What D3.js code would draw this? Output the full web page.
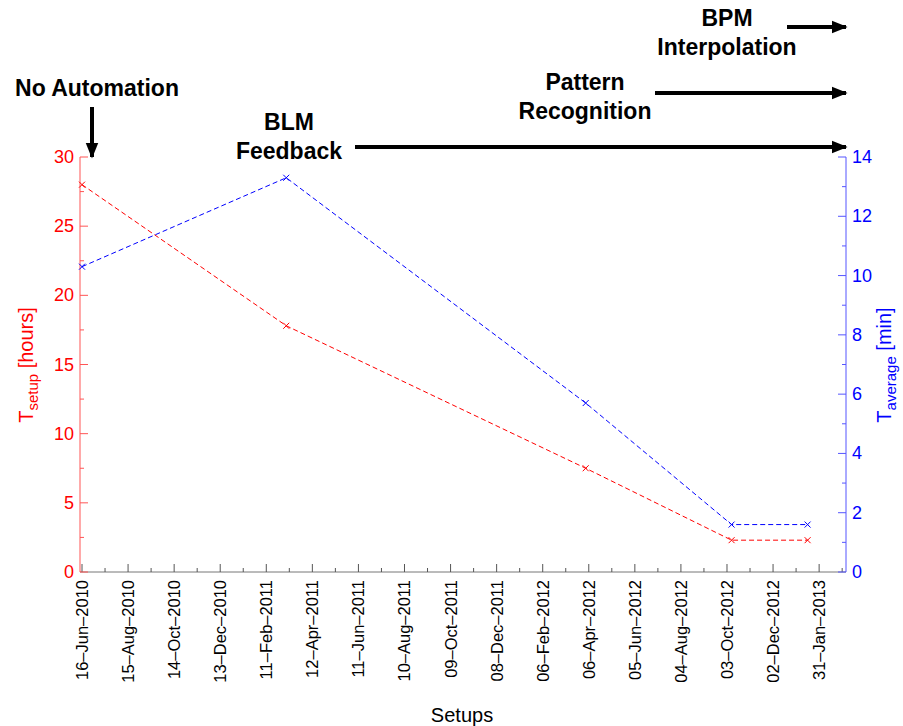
<!DOCTYPE html>
<html><head><meta charset="utf-8">
<script src="https://cdn.jsdelivr.net/npm/d3@7"></script>
<style>body{margin:0;background:#fff}text{font-family:"Liberation Sans",Arial,sans-serif}</style>
</head><body>
<script>
var setupDates = ["2010-06-16","2011-03-09","2012-04-02","2012-10-09","2013-01-16"];
var tSetup = [28, 17.8, 7.5, 2.3, 2.3];
var tAverage = [10.3, 13.3, 5.7, 1.6, 1.6];
var tickStart = "2010-06-16";
var tickCount = 17;   // every 60 days
var notes = [
  {lines:["No Automation"], x:97, y:88},
  {lines:["BLM","Feedback"], x:289, y:122},
  {lines:["Pattern","Recognition"], x:585, y:82},
  {lines:["BPM","Interpolation"], x:727, y:18}
];

var W = 903, H = 726, pLeft = 80, pRight = 846, pTop = 157, pBottom = 572;
var parse = d3.utcParse("%Y-%m-%d"), fmt = d3.utcFormat("%d\u2013%b\u2013%Y");
var t0 = parse(tickStart);
var ticks = d3.range(tickCount).map(function(i){ return d3.utcDay.offset(t0, 60*i); });
var minor = d3.range(tickCount*2).map(function(i){ return d3.utcDay.offset(t0, 30*i); });
var x = d3.scaleUtc().domain([t0, d3.utcDay.offset(t0, 995)]).range([pLeft+2, pRight]);
var yL = d3.scaleLinear().domain([0,30]).range([pBottom, pTop]);
var yR = d3.scaleLinear().domain([0,14]).range([pBottom, pTop]);

var svg = d3.select("body").append("svg").attr("width", W).attr("height", H);
svg.append("defs").append("marker").attr("id","ah").attr("viewBox","0 0 10 10")
  .attr("refX",9).attr("refY",5).attr("markerWidth",4).attr("markerHeight",4)
  .attr("markerUnits","strokeWidth").attr("orient","auto")
  .append("path").attr("d","M0,1L10,5L0,9Z").attr("fill","black");

// x axis
var gx = svg.append("g").attr("transform","translate(0,"+pBottom+")");
gx.append("line").attr("x1",pLeft).attr("x2",pRight).attr("stroke","#777");
gx.selectAll(".mt").data(minor).enter().append("line")
  .attr("x1",function(d){return x(d);}).attr("x2",function(d){return x(d);})
  .attr("y1",0).attr("y2",function(d,i){return i%2?-4:-8;}).attr("stroke","#555");
gx.selectAll(".tl").data(ticks).enter().append("text")
  .attr("transform",function(d){return "translate("+(x(d)+6)+",8) rotate(-90)";})
  .attr("text-anchor","end").attr("font-size",16.5).text(function(d){return fmt(d);});
svg.append("text").attr("x",462).attr("y",722).attr("text-anchor","middle").attr("font-size",20).text("Setups");

// y axes
function yAxis(scale, xpos, step, color, tcolor, dir, anchor){
  var g = svg.append("g");
  g.append("line").attr("x1",xpos).attr("x2",xpos).attr("y1",pTop).attr("y2",pBottom).attr("stroke",color);
  var max = scale.domain()[1];
  d3.range(0, max+0.001, step/2).forEach(function(v,i){
    g.append("line").attr("x1",xpos).attr("x2",xpos+dir*(i%2?4:8))
      .attr("y1",scale(v)).attr("y2",scale(v)).attr("stroke",color);
    if(i%2==0) g.append("text").attr("x",xpos-dir*6).attr("y",scale(v)+6)
      .attr("text-anchor",anchor).attr("fill",tcolor).attr("font-size",18).text(v);
  });
}
yAxis(yL, pLeft, 5, "#f55", "red", 1, "end");
yAxis(yR, pRight, 2, "#55f", "blue", -1, "start");

var lt = svg.append("text").attr("transform","translate(33,365) rotate(-90)")
  .attr("text-anchor","middle").attr("fill","red").attr("font-size",20);
lt.append("tspan").text("T");
lt.append("tspan").attr("font-size",15).attr("dy",5).text("setup");
lt.append("tspan").attr("dy",-5).text(" [hours]");
var rt = svg.append("text").attr("transform","translate(891,365) rotate(-90)")
  .attr("text-anchor","middle").attr("fill","blue").attr("font-size",20);
rt.append("tspan").text("T");
rt.append("tspan").attr("font-size",15).attr("dy",5).text("average");
rt.append("tspan").attr("dy",-5).text(" [min]");

// series
function series(vals, scale, color){
  var pts = setupDates.map(function(d,i){return [x(parse(d)), scale(vals[i])];});
  svg.append("path").attr("d", d3.line()(pts)).attr("fill","none")
    .attr("stroke",color).attr("stroke-dasharray","5,3");
  pts.forEach(function(p){
    svg.append("path").attr("d","M"+(p[0]-3)+","+(p[1]-3)+"l6,6m-6,0l6,-6")
      .attr("stroke",color);
  });
}
series(tSetup, yL, "red");
series(tAverage, yR, "blue");

// annotations
notes.forEach(function(n){
  n.lines.forEach(function(l,i){
    svg.append("text").attr("x",n.x).attr("y",n.y+i*29+8).attr("text-anchor","middle")
      .attr("font-size",23).attr("font-weight","bold").text(l);
  });
});
function arrow(x1,y1,x2,y2){
  svg.append("line").attr("x1",x1).attr("y1",y1).attr("x2",x2).attr("y2",y2)
    .attr("stroke","black").attr("stroke-width",4).attr("marker-end","url(#ah)");
}
arrow(92,107,92,157);
arrow(355,147,846,147);
arrow(655,93,846,93);
arrow(787,27,846,27);
</script>
</body></html>
